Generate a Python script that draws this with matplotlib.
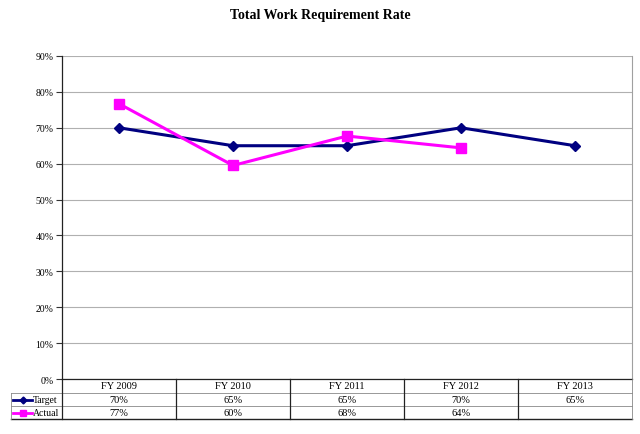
import matplotlib
matplotlib.use("Agg")
import matplotlib.pyplot as plt
from matplotlib.lines import Line2D

years = ["FY 2009", "FY 2010", "FY 2011", "FY 2012", "FY 2013"]
target = [70, 65, 65, 70, 65]
actual = [76.7, 59.5, 67.7, 64.4]
target_labels = ["70%", "65%", "65%", "70%", "65%"]
actual_labels = ["77%", "60%", "68%", "64%", ""]

W, H = 640, 435
fig = plt.figure(figsize=(W / 100, H / 100), dpi=100)
plt.rcParams['font.family'] = ['Liberation Serif', 'DejaVu Serif']

# plot area in pixels
x0, x1, ytop, ybot = 62, 632, 57, 380
ax = fig.add_axes([x0 / W, 1 - ybot / H, (x1 - x0) / W, (ybot - ytop) / H])

ax.plot(range(len(target)), target, color="#000080", lw=2.2, marker="D", ms=5.5, zorder=3)
ax.plot(range(len(actual)), actual, color="#FF00FF", lw=2.2, marker="s", ms=7, zorder=4)

ax.set_xlim(-0.5, len(years) - 0.5)
ax.set_ylim(0, 90)
ax.set_yticks(range(0, 91, 10))
ax.set_yticklabels([f"{v}%" for v in range(0, 91, 10)], fontsize=7)
ax.set_xticks([])
ax.tick_params(axis="y", length=4, width=0.8, color="#333333", pad=2)
ax.yaxis.grid(True, color="#b0b0b0", lw=0.8)
ax.set_axisbelow(True)
for s in ["top", "bottom"]:
    ax.spines[s].set_visible(False)
ax.spines["left"].set_color("#222222")
ax.spines["left"].set_linewidth(0.9)
ax.spines["right"].set_color("#a0a0a0")
ax.spines["right"].set_linewidth(0.8)

fig.text(0.5, 1 - 16 / H, "Total Work Requirement Rate", ha="center", va="center",
         fontsize=10, fontweight="bold")


def fx(px):
    return px / W


def fy(py):
    return 1 - py / H


def hline(xa, xb, y, c, lw):
    fig.add_artist(Line2D([fx(xa), fx(xb)], [fy(y), fy(y)], color=c, lw=lw))


def vline(x, ya, yb, c, lw):
    fig.add_artist(Line2D([fx(x), fx(x)], [fy(ya), fy(yb)], color=c, lw=lw))


# data table
rows = [380, 394, 407, 420]
lx = 11
colw = (x1 - x0) / len(years)
hline(x0, x1, rows[0], "#222222", 0.9)
hline(lx, x1, rows[1], "#888888", 0.6)
hline(lx, x1, rows[2], "#888888", 0.6)
hline(lx, x1, rows[3], "#222222", 1.0)
vline(lx, rows[1], rows[3], "#888888", 0.6)
vline(x0, rows[0], rows[3], "#222222", 0.9)
for i in range(1, len(years)):
    vline(x0 + i * colw, rows[0], rows[3], "#222222", 0.9)
vline(x1, rows[0], rows[3], "#888888", 0.6)

for i, yr in enumerate(years):
    cx = fx(x0 + (i + 0.5) * colw)
    fig.text(cx, fy((rows[0] + rows[1]) / 2), yr, ha="center", va="center", fontsize=7.5)
    fig.text(cx, fy((rows[1] + rows[2]) / 2), target_labels[i], ha="center", va="center", fontsize=7.5)
    fig.text(cx, fy((rows[2] + rows[3]) / 2), actual_labels[i], ha="center", va="center", fontsize=7.5)

# legend keys
for r, name, c, m, ms in [(1, "Target", "#000080", "D", 3.5), (2, "Actual", "#FF00FF", "s", 5)]:
    yc = fy((rows[r] + rows[r + 1]) / 2)
    fig.add_artist(Line2D([fx(13), fx(32)], [yc, yc], color=c, lw=2))
    fig.add_artist(Line2D([fx(23)], [yc], color=c, marker=m, ms=ms, lw=0))
    fig.text(fx(33), yc, name, ha="left", va="center", fontsize=7)

fig.savefig("out.png", dpi=100)
